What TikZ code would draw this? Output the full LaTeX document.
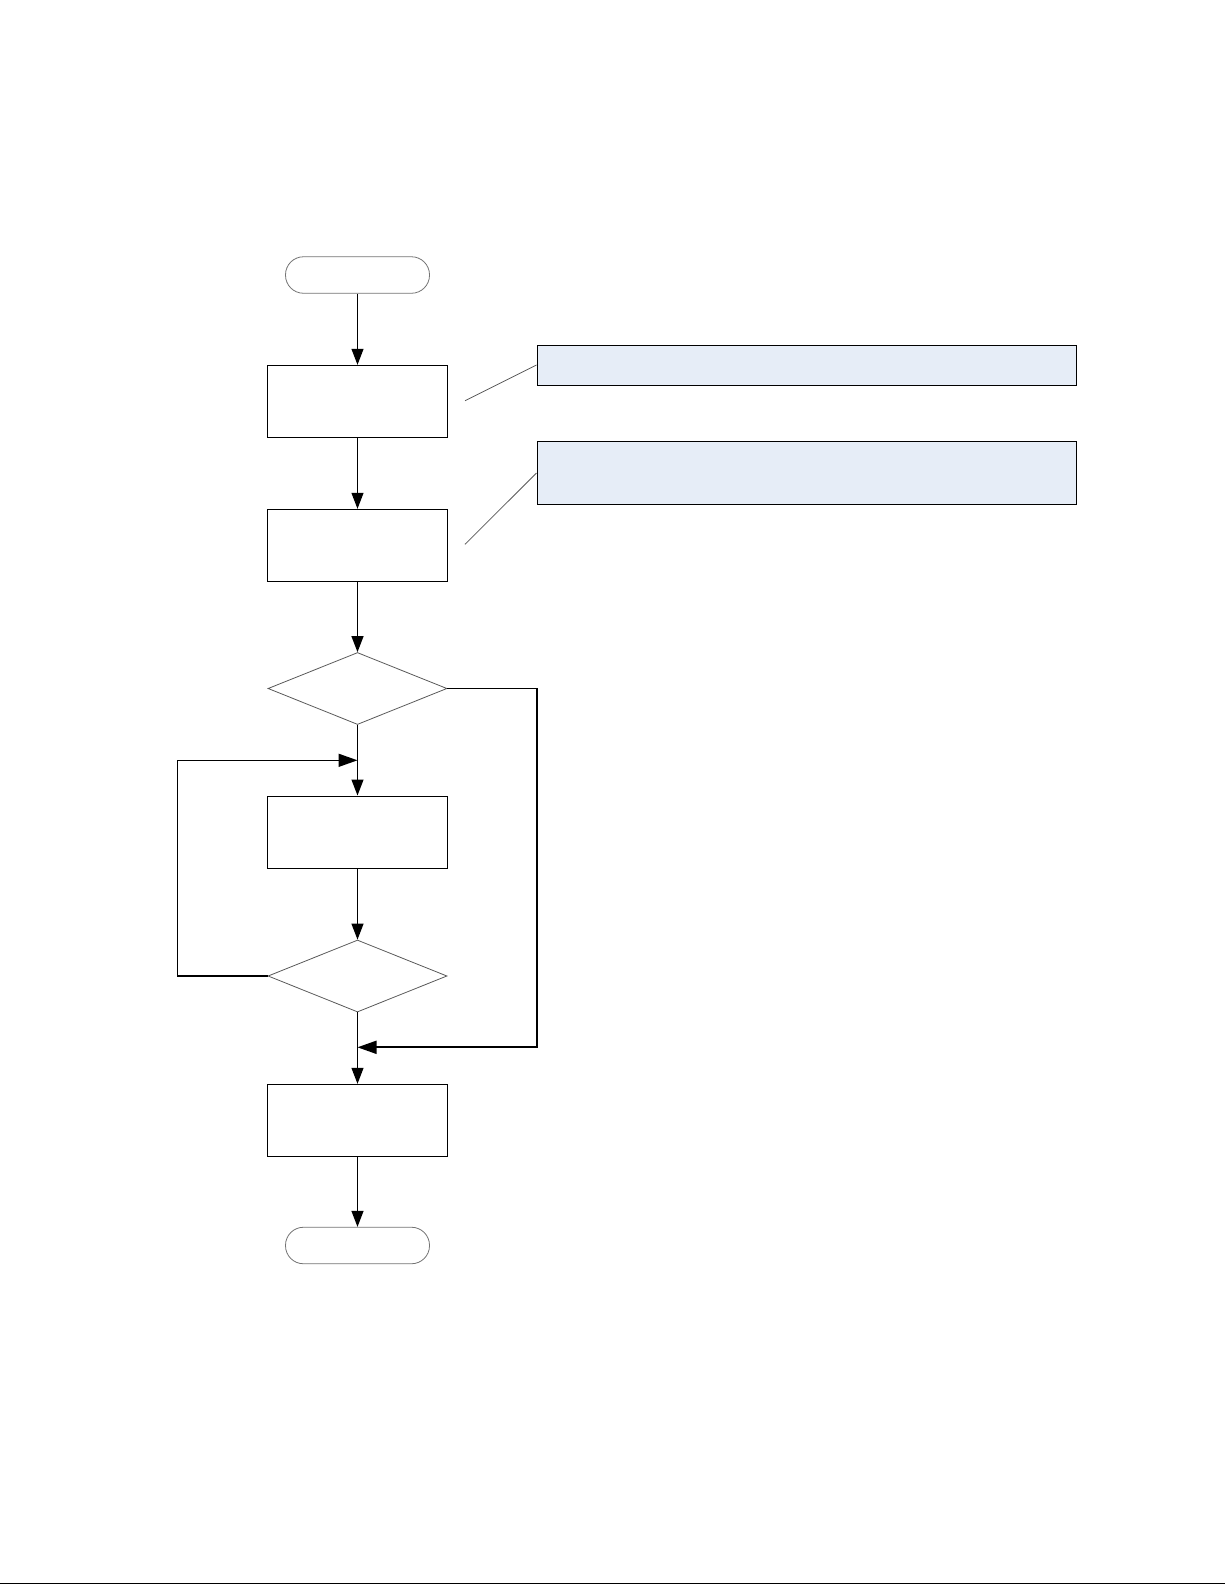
\documentclass[tikz,border=0pt]{standalone}
\usetikzlibrary{arrows.meta,shapes.geometric}
\definecolor{calloutfill}{HTML}{E6EDF7}
\begin{document}
\begin{tikzpicture}[x=1pt,y=-1pt,
  procbox/.style={draw=black,line width=1pt,minimum width=180pt,minimum height=72pt,inner sep=0pt},
  termbox/.style={draw=black!55,line width=0.8pt,rounded corners=18pt,minimum width=144pt,minimum height=36.5pt,inner sep=0pt},
  decbox/.style={draw=black!65,line width=0.8pt,diamond,minimum width=179pt,minimum height=72pt,inner sep=0pt},
  notebox/.style={draw=black,line width=1pt,fill=calloutfill,inner sep=0pt},
  flow/.style={line width=1.2pt,-{Triangle[length=16pt,width=12pt]}},
  sideflow/.style={line width=1.2pt,-{Triangle[length=19pt,width=13pt]}},
  callline/.style={draw=black!65,line width=0.8pt}]
\useasboundingbox (0,0) rectangle (1225,1585);
\node[termbox] (start) at (357.5,275) {};
\node[procbox] (b1) at (357.5,401.3) {};
\node[procbox] (b2) at (357.5,545.3) {};
\node[decbox] (d1) at (357.5,688.5) {};
\node[procbox] (b3) at (357.5,832) {};
\node[decbox] (d2) at (357.5,976) {};
\node[procbox] (b4) at (357.5,1120.3) {};
\node[termbox] (end) at (357.5,1245.5) {};
\node[notebox,minimum width=539pt,minimum height=40pt] (c1) at (806.5,365) {};
\node[notebox,minimum width=539pt,minimum height=63.5pt] (c2) at (806.5,473) {};
\coordinate (j1) at (357.5,760.3);
\coordinate (m1) at (357.5,1047.3);
\coordinate (l1) at (465,400.7);
\coordinate (l2) at (465,544.3);
\draw[flow] (start) -- (b1);
\draw[flow] (b1) -- (b2);
\draw[flow] (b2) -- (d1);
\draw[flow] (d1) -- (b3);
\draw[flow] (b3) -- (d2);
\draw[flow] (d2) -- (b4);
\draw[flow] (b4) -- (end);
\draw[sideflow,line width=1.6pt] (d2.west) -- (177.3,976) |- (j1);
\draw[sideflow,line width=1.8pt] (d1.east) -- (537,688.5) |- (m1);
\draw[callline] (l1) -- (c1.west);
\draw[callline] (l2) -- (c2.west);
\draw[line width=1.5pt] (0,1583.5) -- (1225,1583.5);
\end{tikzpicture}
\end{document}
